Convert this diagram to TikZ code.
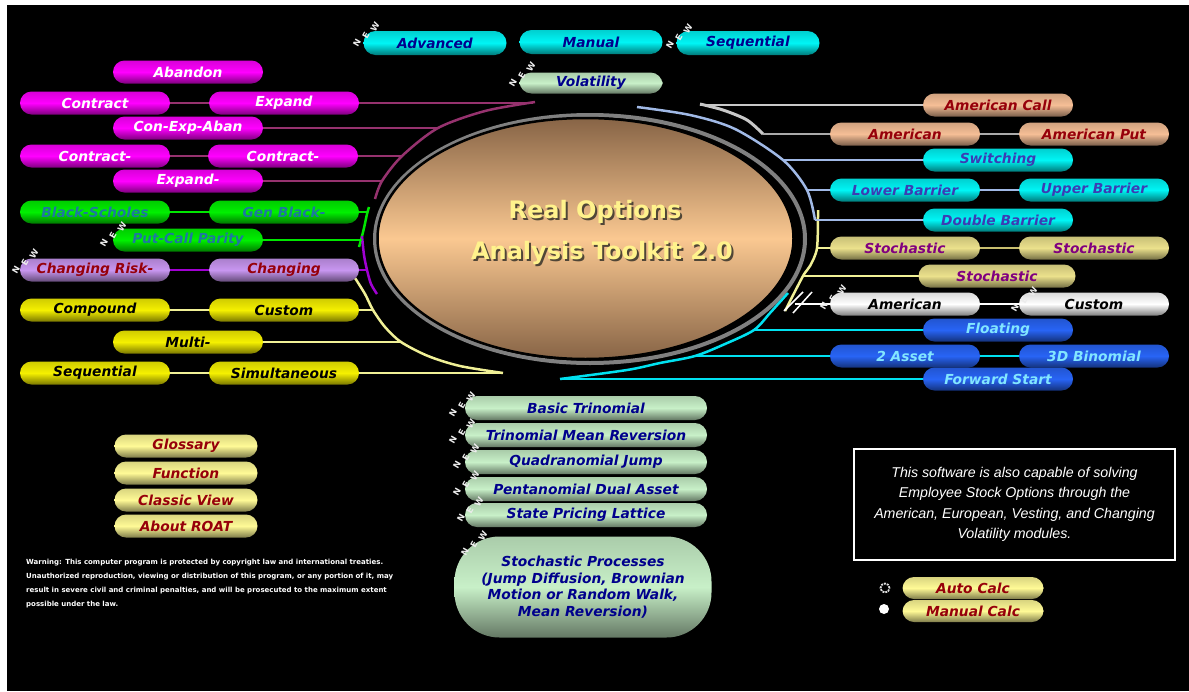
\documentclass[tikz,border=0pt]{standalone}
\usepackage{fontspec}
\setmainfont{DejaVu Sans}[ItalicFont={DejaVu Sans Oblique},BoldFont={DejaVu Sans Bold},BoldItalicFont={DejaVu Sans Bold Oblique}]
\newfontfamily\boxfont{Liberation Sans}
\usetikzlibrary{shapes.geometric}
\definecolor{cMag}{RGB}{255,0,255}
\definecolor{cGreen}{RGB}{0,240,0}
\definecolor{cLav}{RGB}{200,150,240}
\definecolor{cYel}{RGB}{245,240,0}
\definecolor{cCyan}{RGB}{0,245,245}
\definecolor{cPale}{RGB}{200,240,200}
\definecolor{cTan}{RGB}{245,190,150}
\definecolor{cKhaki}{RGB}{235,225,140}
\definecolor{cWhite}{RGB}{255,255,255}
\definecolor{cBlue}{RGB}{40,100,245}
\definecolor{cCream}{RGB}{255,250,150}
\definecolor{tTeal}{RGB}{30,120,160}
\definecolor{tRed}{RGB}{150,0,10}
\definecolor{tNavy}{RGB}{0,0,140}
\definecolor{tViolet}{RGB}{60,60,180}
\definecolor{tPurple}{RGB}{128,0,128}
\definecolor{tSky}{RGB}{130,230,255}
\definecolor{lMag}{RGB}{150,50,110}
\definecolor{lGreen}{RGB}{0,230,0}
\definecolor{lPurp}{RGB}{160,0,210}
\definecolor{lYel}{RGB}{240,240,150}
\definecolor{lGray}{RGB}{200,200,200}
\definecolor{lBlue}{RGB}{160,185,230}
\definecolor{lKhaki}{RGB}{200,190,110}
\definecolor{lCyan}{RGB}{0,225,240}
\definecolor{elTop}{RGB}{135,100,70}
\definecolor{elMid}{RGB}{250,200,145}
\definecolor{ttlYel}{RGB}{255,242,140}
\definecolor{ttlShad}{RGB}{80,70,55}
\newcommand{\newbadge}[3]{%
  \node[newl] (#1n) at (#2,#3) {N};
  \node[newl] (#1e) at ([shift={(9,-8)}]#2,#3) {E};
  \node[newl] (#1w) at ([shift={(18,-16)}]#2,#3) {W};}
\begin{document}
\begin{tikzpicture}[x=1pt,y=-1pt,
  pill/.style={rectangle, rounded corners=11.5pt, minimum width=150pt, minimum height=23pt, inner sep=0pt, font=\bfseries\itshape\fontsize{13.8}{15}\selectfont},
  tpill/.style={pill, minimum width=143pt, minimum height=24pt, rounded corners=12pt},
  bpill/.style={pill, minimum width=242pt, minimum height=24pt, rounded corners=12pt},
  spill/.style={pill, minimum width=143pt},
  pillshade/.style n args={2}{top color=#1!85!black, bottom color=#1!50!black, middle color=#1, text=#2},
  mag/.style={pillshade={cMag}{white}},
  grn/.style={pillshade={cGreen}{tTeal}},
  lav/.style={pillshade={cLav}{tRed}},
  yel/.style={pillshade={cYel}{black}},
  cya/.style={pillshade={cCyan}{tNavy}},
  cyr/.style={pillshade={cCyan}{tViolet}},
  pal/.style={pillshade={cPale}{tNavy}},
  tan/.style={pillshade={cTan}{tRed}},
  kha/.style={pillshade={cKhaki}{tPurple}},
  wht/.style={pillshade={cWhite}{black}},
  blu/.style={pillshade={cBlue}{tSky}},
  cre/.style={pillshade={cCream}{tRed}},
  conn/.style={line width=1.3pt},
  arcw/.style={line width=2.5pt},
  newl/.style={font=\bfseries\fontsize{8.5}{8.5}\selectfont, text=white!85!gray, rotate=60, inner sep=0pt}
]
\useasboundingbox (0,0) rectangle (1189,691);
\fill[white] (0,0) rectangle (1189,691);
\fill[black] (7,5) rectangle (1189,691);

% central ellipse
\draw[gray, line width=4pt] (590,239) ellipse [x radius=215pt, y radius=124pt];
\node[ellipse, draw=black, line width=2.5pt, minimum width=416pt, minimum height=241pt, top color=elTop, bottom color=elTop, middle color=elMid] (core) at (585.5,238.5) {};
\node[text=ttlShad, font=\bfseries\fontsize{24}{26}\selectfont] (t1s) at (597,214) {Real Options};
\node[text=ttlYel, font=\bfseries\fontsize{24}{26}\selectfont] (t1) at (595,212) {Real Options};
\node[text=ttlShad, font=\bfseries\fontsize{24}{26}\selectfont] (t2s) at (604,255) {Analysis Toolkit 2.0};
\node[text=ttlYel, font=\bfseries\fontsize{24}{26}\selectfont] (t2) at (602,253) {Analysis Toolkit 2.0};

% arcs
\draw[lMag, arcw] plot[smooth] coordinates {(535,102) (485,111) (438,128) (402,156) (382,181) (375,199)};
\draw[lGreen, arcw] plot[smooth] coordinates {(369,207) (367,214) (364,228) (361,240) (359,247)};
\draw[lPurp, arcw] plot[smooth] coordinates {(362,236) (364,255) (367,270) (371,284) (377,294)};
\draw[lYel, arcw] plot[smooth] coordinates {(355,278) (365,294) (373,310) (385,327) (401,342) (428,356) (460,366) (503,373)};
\draw[lGray, line width=3pt] plot[smooth] coordinates {(700,104) (723,110) (747,120) (763,134)};
\draw[lBlue, arcw] plot[smooth] coordinates {(637,107) (690,115) (735,129) (783,160) (807,190) (815,220)};
\draw[lYel, arcw] plot[smooth] coordinates {(818,210) (817,248) (810,266) (803,276) (785,311)};
\draw[lCyan, arcw] plot[smooth] coordinates {(788,293) (770,313) (754,330) (725,344) (695,356) (660,363) (627,370) (560,379)};
\draw[white, line width=1.5pt] (784,311) -- (803,292);
\draw[white, line width=1.5pt] (793,313) -- (812,292);

\coordinate (mA) at (533,103);
\coordinate (mB) at (438,128);
\coordinate (mC) at (402,156);
\coordinate (mD) at (382,181);
\coordinate (gA) at (367,212);
\coordinate (gB) at (362,240);
\coordinate (pA) at (367,270);
\coordinate (yA) at (373,310);
\coordinate (yB) at (401,342);
\coordinate (yC) at (503,373);
\coordinate (wA) at (700,105);
\coordinate (wB) at (763,134);
\coordinate (bA) at (783,160);
\coordinate (bB) at (807,190);
\coordinate (bC) at (815,220);
\coordinate (yR1) at (817,248);
\coordinate (yR2) at (803,276);
\coordinate (wC) at (795,304);
\coordinate (cA) at (754,330);
\coordinate (cB) at (695,356);
\coordinate (cC) at (560,379);

% left nodes
\node[pill,mag] (aband) at (188,72) {Abandon};
\node[pill,mag] (contr1) at (95,103) {Contract};
\node[pill,mag] (expand1) at (284,103) {Expand};
\node[pill,mag] (cea) at (188,128) {Con-Exp-Aban};
\node[pill,mag] (contr2) at (95,156) {Contract-};
\node[pill,mag] (contr3) at (283,156) {Contract-};
\node[pill,mag] (expand2) at (188,181) {Expand-};
\node[pill,grn] (bs) at (95,212) {Black-Scholes};
\node[pill,grn] (genbs) at (284,212) {Gen Black-};
\node[pill,grn] (pcp) at (188,240) {Put-Call Parity};
\node[pill,lav] (crisk) at (95,270) {Changing Risk-};
\node[pill,lav] (chg) at (284,270) {Changing};
\node[pill,yel] (comp) at (95,310) {Compound};
\node[pill,yel] (cust) at (284,310) {Custom};
\node[pill,yel] (multi) at (188,342) {Multi-};
\node[pill,yel] (seq) at (95,373) {Sequential};
\node[pill,yel] (simul) at (284,373) {Simultaneous};

% top nodes
\node[tpill,cya] (adv) at (435,43) {Advanced};
\node[tpill,cya] (man) at (591,42) {Manual};
\node[tpill,cya] (seqt) at (748,43) {Sequential};
\node[tpill,pal,minimum height=21pt] (vol) at (591,83) {Volatility};

% right nodes
\node[pill,tan] (amcall) at (998,105) {American Call};
\node[pill,tan] (amer) at (905,134) {American};
\node[pill,tan] (amput) at (1094,134) {American Put};
\node[pill,cyr] (switch) at (998,160) {Switching};
\node[pill,cyr] (lowb) at (905,190) {Lower Barrier};
\node[pill,cyr] (upb) at (1094,190) {Upper Barrier};
\node[pill,cyr] (dblb) at (998,220) {Double Barrier};
\node[pill,kha] (stoch1) at (905,248) {Stochastic};
\node[pill,kha] (stoch2) at (1094,248) {Stochastic};
\node[pill,kha,minimum width=157pt] (stoch3) at (997,276) {Stochastic};
\node[pill,wht] (amw) at (905,304) {American};
\node[pill,wht] (custw) at (1094,304) {Custom};
\node[pill,blu] (float) at (998,330) {Floating};
\node[pill,blu] (asset2) at (905,356) {2 Asset};
\node[pill,blu] (bin3d) at (1094,356) {3D Binomial};
\node[pill,blu] (fwd) at (998,379) {Forward Start};

% connectors
\draw[lMag, conn] (contr1) -- (expand1);
\draw[lMag, conn] (expand1) -- (mA);
\draw[lMag, conn] (cea) -- (mB);
\draw[lMag, conn] (contr2) -- (contr3);
\draw[lMag, conn] (contr3) -- (mC);
\draw[lMag, conn] (expand2) -- (mD);
\draw[lGreen, conn] (bs) -- (genbs);
\draw[lGreen, conn] (genbs) -- (gA);
\draw[lGreen, conn] (pcp) -- (gB);
\draw[lPurp, conn] (crisk) -- (chg);
\draw[lPurp, conn] (chg) -- (pA);
\draw[lYel, conn] (comp) -- (cust);
\draw[lYel, conn] (cust) -- (yA);
\draw[lYel, conn] (multi) -- (yB);
\draw[lYel, conn] (seq) -- (simul);
\draw[lYel, conn] (simul) -- (yC);
\draw[lGray, conn] (amcall) -- (wA);
\draw[lGray!85!black, conn] (amer) -- (wB);
\draw[lGray!85!black, conn] (amer) -- (amput);
\draw[lBlue, conn] (switch) -- (bA);
\draw[lBlue, conn] (lowb) -- (bB);
\draw[lBlue, conn] (lowb) -- (upb);
\draw[lBlue, conn] (dblb) -- (bC);
\draw[lYel, conn] (stoch1) -- (yR1);
\draw[lKhaki, conn] (stoch1) -- (stoch2);
\draw[lYel, conn] (stoch3) -- (yR2);
\draw[white, conn] (amw) -- (wC);
\draw[white, conn] (amw) -- (custw);
\draw[lCyan, conn] (float) -- (cA);
\draw[lCyan, conn] (asset2) -- (cB);
\draw[lCyan, conn] (asset2) -- (bin3d);
\draw[lCyan, conn] (fwd) -- (cC);

% bottom center
\node[bpill,pal] (bt) at (586,408) {Basic Trinomial};
\node[bpill,pal] (tmr) at (586,435) {Trinomial Mean Reversion};
\node[bpill,pal] (qj) at (586,462) {Quadranomial Jump};
\node[bpill,pal] (pda) at (586,489) {Pentanomial Dual Asset};
\node[bpill,pal] (spl) at (586,515) {State Pricing Lattice};
\node[pill,pal,minimum width=257pt,minimum height=101pt,rounded corners=45pt,align=center,font=\bfseries\itshape\fontsize{13.8}{16.5}\selectfont] (sp) at (583,587) {Stochastic Processes\\(Jump Diffusion, Brownian\\Motion or Random Walk,\\Mean Reversion)};

% bottom left
\node[spill,cre] (gloss) at (186,446) {Glossary};
\node[spill,cre] (func) at (186,473) {Function};
\node[spill,cre] (classic) at (186,500) {Classic View};
\node[spill,cre] (about) at (186,526) {About ROAT};
\node[anchor=north west, text=white, align=left, inner sep=0pt, font=\bfseries\fontsize{7}{14}\selectfont] (warn) at (26,559) {Warning: This computer program is protected by copyright law and international treaties.\\Unauthorized reproduction, viewing or distribution of this program, or any portion of it, may\\result in severe civil and criminal penalties, and will be prosecuted to the maximum extent\\possible under the law.};

% info box
\node[draw=white, line width=2.5pt, minimum width=321pt, minimum height=111pt, align=center, text=white, font=\boxfont\itshape\fontsize{14.2}{20.5}\selectfont] (info) at (1014.5,504.5) {This software is also capable of solving\\Employee Stock Options through the\\American, European, Vesting, and Changing\\Volatility modules.};

\node[pill,cre,minimum width=141pt,minimum height=22pt] (auto) at (973,588) {Auto Calc};
\node[pill,cre,minimum width=141pt,minimum height=22pt] (mcalc) at (973,611) {Manual Calc};
\node[circle, draw=white!75!gray, line width=1.8pt, dash pattern=on 2pt off 1pt, minimum size=9pt, inner sep=0pt] (rauto) at (885,588) {};
\node[circle, fill=white, minimum size=10pt, inner sep=0pt] (rman) at (884,609) {};

% NEW tags
\newbadge{na}{357}{43}
\newbadge{nb}{670}{45}
\newbadge{nc}{513}{83}
\newbadge{nd}{104}{243}
\newbadge{ne}{16}{270}
\newbadge{nf}{824}{306}
\newbadge{ng}{1015}{308}
\newbadge{nh}{453}{413}
\newbadge{ni}{453}{440}
\newbadge{nj}{457}{465}
\newbadge{nk}{457}{492}
\newbadge{nl}{461}{518}
\newbadge{nm}{465}{552}
\end{tikzpicture}
\end{document}
